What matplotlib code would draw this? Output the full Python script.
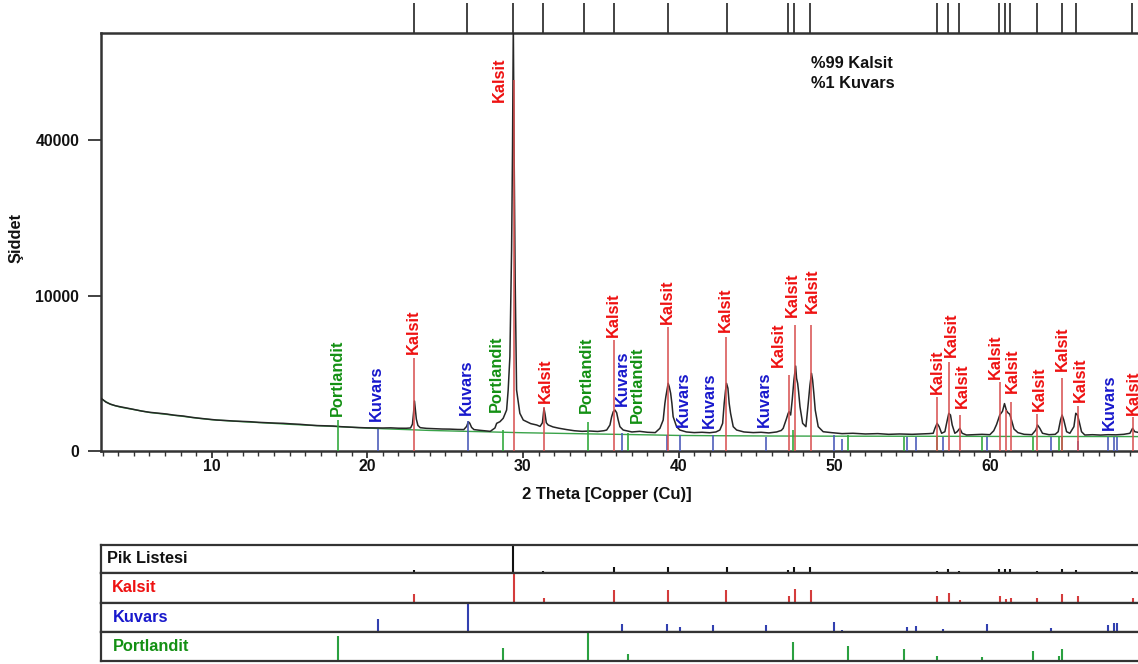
import numpy as np
import matplotlib
matplotlib.use("Agg")
import matplotlib.pyplot as plt
from matplotlib.ticker import FixedLocator, MultipleLocator, NullLocator

plt.rcParams['font.family'] = ['Liberation Sans', 'DejaVu Sans']
plt.rcParams['font.weight'] = 'bold'

# ---------------- data ----------------
scan_2theta = [
    2.89, 3.04, 3.2, 3.47, 3.8, 4.11, 4.5, 4.96, 5.5, 6.04,
    6.6, 7.11, 7.6, 8.18, 8.7, 9.25, 9.8, 10.32, 10.9, 11.39,
    11.9, 12.46, 13.0, 13.53, 14.1, 14.6, 15.1, 15.67, 16.2, 16.75,
    17.3, 17.81, 18.3, 18.89, 19.4, 19.96, 20.5, 21.02, 21.5, 22.0, 22.5,
    22.78, 22.9, 22.97, 23.03, 23.08, 23.15, 23.25, 23.4, 23.8, 24.3, 24.8, 25.3, 25.8, 26.2,
    26.38, 26.49, 26.58, 26.7, 26.85, 27.2, 27.6, 27.9, 28.2, 28.31, 28.52, 28.73, 28.95,
    29.05, 29.16, 29.27, 29.33, 29.38, 29.43, 29.5, 29.59, 29.8, 30.02, 30.24, 30.5, 30.88, 31.1,
    31.25, 31.35, 31.42, 31.5, 31.62, 31.93, 32.3, 32.8, 33.3, 33.8, 34.3, 34.8, 35.2,
    35.38, 35.59, 35.7, 35.8, 35.91, 36.02, 36.12, 36.23, 36.44, 37.0, 37.5, 38.0, 38.5,
    38.8, 39.01, 39.12, 39.18, 39.27, 39.33, 39.4, 39.49, 39.57, 39.65, 39.87, 40.08,
    40.5, 41.0, 41.5, 42.0, 42.4, 42.65, 42.83, 42.93, 43.02, 43.08, 43.17, 43.25, 43.34,
    43.51, 43.73, 44.2, 44.8, 45.3, 45.8, 46.3, 46.6,
    46.72, 46.94, 47.04, 47.1, 47.2, 47.3, 47.41, 47.52, 47.58, 47.65, 47.71, 47.8, 47.97,
    48.18, 48.33, 48.44, 48.54, 48.61, 48.69, 48.78, 48.97, 49.29, 49.8, 50.5, 51.2, 52.0,
    52.8, 53.5, 54.2, 55.0, 55.6, 56.1,
    56.36, 56.47, 56.61, 56.74, 56.9, 57.11, 57.22, 57.36, 57.47, 57.58, 57.75, 57.9, 58.07,
    58.22, 58.5, 59.0, 59.5, 60.0, 60.25, 60.43, 60.64, 60.81, 60.94, 61.07, 61.17, 61.28,
    61.39, 61.55, 61.8, 62.2, 62.7, 62.95, 63.06, 63.21, 63.38, 63.8, 64.2, 64.39, 64.54,
    64.64, 64.75, 64.93, 65.14, 65.4, 65.52, 65.63, 65.74, 65.89, 66.1, 66.6, 67.1, 67.6,
    68.1, 68.6, 69.0, 69.17, 69.31, 69.6,
]
scan_counts = [
    1150, 1076, 990, 914, 850, 812, 770, 719, 660, 618,
    590, 566, 530, 506, 470, 442, 420, 397, 385, 372,
    365, 355, 340, 331, 322, 317, 305, 295, 280, 268,
    262, 258, 245, 235, 228, 222, 220, 219, 222, 215, 214,
    220, 300, 600, 1034, 760, 420, 270, 225, 212, 205, 200, 198, 192, 190,
    250, 355, 320, 230, 190, 178, 168, 160, 219, 317, 355, 442, 695,
    1539, 3677, 16700, 38000, 76000, 38000, 12000, 1539, 588, 397, 355, 310, 280, 250,
    330, 754, 560, 330, 280, 240, 215, 190, 170, 160, 165, 158, 170,
    182, 280, 486, 638, 695, 607, 397, 245, 182, 150, 160, 145, 140,
    213, 397, 940, 1219, 1625, 1895, 1709, 1376, 940, 486, 245, 182,
    150, 140, 145, 138, 150, 182, 317, 940, 1539, 1895, 1625, 940, 588,
    245, 182, 150, 140, 145, 135, 150, 175,
    213, 442, 588, 638, 536, 1076, 2085, 2988, 2185, 1895, 1455, 812, 317,
    245, 940, 1801, 2496, 2085, 1376, 695, 245, 154, 140, 125, 130, 120,
    125, 115, 120, 115, 120, 125,
    130, 213, 317, 245, 130, 154, 317, 588, 536, 280, 130, 154, 213,
    130, 106, 110, 115, 110, 170, 290, 540, 650, 930, 670, 600, 560,
    397, 200, 140, 115, 110, 182, 280, 213, 130, 110, 115, 154, 397,
    536, 397, 154, 130, 245, 588, 536, 355, 154, 106, 110, 105, 110,
    108, 115, 130, 213, 154, 140,
]

background_2theta = [2.9, 3.5, 4.1, 5, 6, 7, 8, 9, 10, 11, 12, 13, 14, 15, 16, 17, 18, 19,
                     20, 21, 22, 24, 26, 28, 30, 32, 34, 36, 38, 40, 42, 44, 46, 48,
                     50, 55, 60, 65, 70]
background_counts = [1120, 900, 800, 710, 615, 560, 505, 450, 405, 378, 355, 335, 315, 295,
                     278, 262, 248, 232, 218, 205, 195, 175, 162, 150, 138, 130, 122, 115,
                     108, 100, 97, 95, 93, 92, 91, 90, 88, 87, 86]

# reference sticks: position, height in the main plot, relative height (%) in the lower panel
kalsit_pos = [23.0, 29.4, 31.35, 35.86, 39.3, 43.02, 47.07, 47.46, 48.48, 56.61,
              57.36, 58.07, 60.64, 61.01, 61.39, 63.06, 64.64, 65.67, 69.2]
kalsit_main = [3554, 56920, 800, 5095, 6390, 5400, 2389, 6566, 6566, 1219,
               3298, 536, 1986, 695, 993, 560, 2185, 837, 487]
kalsit_rel = [28, 100, 17, 41, 41, 41, 24, 45, 41, 21, 31, 10, 24, 14, 17, 17, 28, 21, 17]

kuvars_pos = [20.7, 26.49, 36.34, 39.27, 40.08, 42.22, 45.6, 50.0, 50.5, 54.7,
              55.25, 57.0, 59.83, 63.92, 65.67, 67.6, 67.97, 68.2]
kuvars_main = [195, 372, 130, 110, 106, 106, 85, 106, 60, 85,
               85, 85, 85, 85, 40, 85, 85, 85]
kuvars_rel = [45, 100, 28, 28, 17, 24, 24, 34, 7, 17, 21, 10, 28, 14, 3, 24, 31, 31]

portlandit_pos = [18.14, 28.73, 34.15, 36.76, 47.33, 50.9, 54.5, 56.6, 59.47, 62.78, 64.45, 64.64]
portlandit_main = [397, 182, 355, 134, 182, 106, 85, 85, 85, 85, 85, 85]
portlandit_rel = [86, 45, 100, 24, 66, 52, 41, 17, 14, 34, 17, 41]

pik_pos = [22.97, 26.4, 29.38, 31.31, 33.95, 35.86, 39.29, 43.09, 47.06, 47.44, 48.46,
           56.63, 57.34, 58.03, 60.58, 60.98, 61.31, 63.03, 64.63, 65.52, 69.15]
pik_rel = [11, 4, 100, 7, 2, 21, 21, 21, 11, 21, 21, 7, 14, 7, 14, 14, 14, 7, 14, 11, 7]

y_ticks = [0, 10000, 40000]
x_major = [10, 20, 30, 40, 50, 60]

# label placement: (stick index, dx px, dy px above stick top)
kalsit_labels = [(0, -1, 4), (1, -14, -22), (2, 1, 4), (3, -1, 3), (4, 0, 3), (5, 0, 5),
                 (6, -10, 8), (7, -2, 8), (8, 2, 12), (9, 0, 3), (10, 3, 5), (11, 3, 7),
                 (12, -4, 3), (14, 1, 9), (15, 2, 3), (16, 0, 7), (17, 2, 4), (18, 0, 2)]
kuvars_labels = [(0, -2, 8), (1, -2, 6), (2, 1, 27), (4, 4, 8), (5, -4, 7), (6, -1, 10), (16, -5, 7)]
portlandit_labels = [(0, -1, 4), (1, -7, 18), (2, -1, 9), (3, 9, 10)]

# ---------------- figure ----------------
W, H = 1138, 664
fig = plt.figure(figsize=(W / 100, H / 100), dpi=100)


def fx(px):
    return px / W


def fy(py):
    return 1 - py / H


XMIN, XMAX = 2.888, 70.0
LEFT_PX, RIGHT_PX = 101, 1145.5
TOP_PX, BOT_PX = 32.7, 451

ax = fig.add_axes([fx(LEFT_PX), fy(BOT_PX), (RIGHT_PX - LEFT_PX) / W, (BOT_PX - TOP_PX) / H])
ax.set_yscale('function', functions=(lambda v: np.sqrt(np.clip(v, 0, None)), lambda v: np.square(v)))
ax.set_xlim(XMIN, XMAX)
ax.set_ylim(0, 72400)

RED_STICK, BLUE_STICK, GREEN_STICK = '#d85050', '#4a5ab8', '#2ea83a'
RED_TXT, BLUE_TXT, GREEN_TXT = '#ee1111', '#1818cc', '#139013'

ax.plot(background_2theta, background_counts, color='#3aa34a', lw=1.0, zorder=2)
ax.plot(scan_2theta, scan_counts, color='#262626', lw=1.1, zorder=3)

ax.vlines(portlandit_pos, 0, portlandit_main, colors=GREEN_STICK, lw=1.3, zorder=4, alpha=0.9)
ax.vlines(kuvars_pos, 0, kuvars_main, colors=BLUE_STICK, lw=1.3, zorder=4, alpha=0.9)
ax.vlines(kalsit_pos, 0, kalsit_main, colors=RED_STICK, lw=1.4, zorder=4, alpha=0.8)

LABEL_FS = 11.8
for name, pos, hts, labels, col in [
        ('Kalsit', kalsit_pos, kalsit_main, kalsit_labels, RED_TXT),
        ('Kuvars', kuvars_pos, kuvars_main, kuvars_labels, BLUE_TXT),
        ('Portlandit', portlandit_pos, portlandit_main, portlandit_labels, GREEN_TXT)]:
    for idx, dx, dy in labels:
        ax.annotate(name, xy=(pos[idx], hts[idx]), xytext=(dx, dy), textcoords='offset pixels',
                    rotation=90, ha='center', va='bottom', color=col, fontsize=LABEL_FS,
                    fontweight='bold', annotation_clip=False, zorder=6)

# peak markers above the plot
ax.vlines(pik_pos, 1.0, 1.0 + 29.5 / (BOT_PX - TOP_PX), transform=ax.get_xaxis_transform(),
          colors='#222222', lw=1.2, clip_on=False)

for s in ['left', 'bottom', 'top', 'right']:
    ax.spines[s].set_color('#333333')
    ax.spines[s].set_linewidth(1.8)

ax.yaxis.set_major_locator(FixedLocator(y_ticks))
ax.yaxis.set_minor_locator(NullLocator())
ax.set_yticklabels([str(v) for v in y_ticks])
ax.xaxis.set_major_locator(FixedLocator(x_major))
ax.xaxis.set_minor_locator(MultipleLocator(1))
ax.tick_params(axis='y', which='major', length=9.4, width=1.3, pad=6.3, labelsize=11.4,
               colors='#333333', labelcolor='#111111')
ax.tick_params(axis='x', which='major', length=5, width=1.3, pad=0.5, labelsize=11.4,
               colors='#333333', labelcolor='#111111')
ax.tick_params(axis='x', which='minor', length=3.6, width=1.0, colors='#333333')
for t in ax.get_xticklabels() + ax.get_yticklabels():
    t.set_fontweight('bold')

fig.text(fx(607), fy(495), '2 Theta [Copper (Cu)]', ha='center', va='center',
         fontsize=12, fontweight='bold', color='#111111')
fig.text(fx(16), fy(238), 'Şiddet', ha='center', va='center', rotation=90,
         fontsize=11.8, fontweight='bold', color='#111111')
fig.text(fx(810.7), fy(63), '%99 Kalsit', ha='left', va='center',
         fontsize=11.8, fontweight='bold', color='#111111')
fig.text(fx(810.7), fy(83), '%1 Kuvars', ha='left', va='center',
         fontsize=11.8, fontweight='bold', color='#111111')

# ---------------- lower panel ----------------
bounds = [545, 572.7, 602.7, 631.7, 661]
rows = [
    ('Pik Listesi', pik_pos, pik_rel, '#111111', '#111111', 107),
    ('Kalsit', kalsit_pos, kalsit_rel, '#d43c3c', RED_TXT, 112),
    ('Kuvars', kuvars_pos, kuvars_rel, '#3240b0', BLUE_TXT, 113),
    ('Portlandit', portlandit_pos, portlandit_rel, '#2aa040', GREEN_TXT, 113),
]
for i, (name, pos, rel, scol, tcol, tx) in enumerate(rows):
    top, bot = bounds[i], bounds[i + 1]
    rax = fig.add_axes([fx(LEFT_PX), fy(bot), (RIGHT_PX - LEFT_PX) / W, (bot - top) / H])
    rax.set_xlim(XMIN, XMAX)
    rax.set_ylim(0, 100)
    rax.vlines(pos, 0, rel, colors=scol, lw=1.5)
    rax.set_xticks([])
    rax.set_yticks([])
    for s in rax.spines.values():
        s.set_color('#333333')
        s.set_linewidth(1.6)
    fig.text(fx(tx), fy((top + bot) / 2), name, ha='left', va='center', fontsize=11.8,
             fontweight='bold', color=tcol)

fig.savefig('out.png', dpi=100)
